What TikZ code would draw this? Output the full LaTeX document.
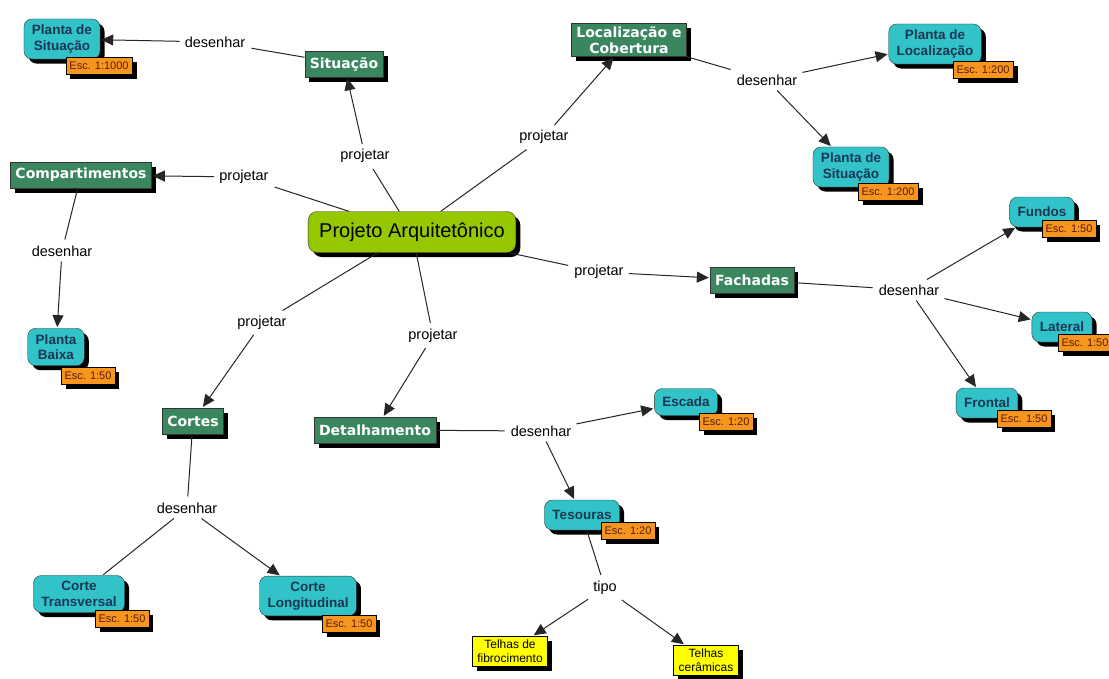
\documentclass[tikz,border=0pt]{standalone}
\usepackage{fontspec}
\setmainfont{Liberation Sans}
\newfontfamily\boxfont{DejaVu Sans}
\usepackage{tikz}
\usetikzlibrary{arrows.meta,shadows}

\definecolor{conceptGreen}{RGB}{58,135,95}
\definecolor{conceptCyan}{RGB}{50,195,200}
\definecolor{conceptLime}{RGB}{150,200,0}
\definecolor{tagOrange}{RGB}{247,150,30}
\definecolor{tagText}{RGB}{90,25,10}
\definecolor{cyanText}{RGB}{25,55,85}
\definecolor{noteYellow}{RGB}{255,255,0}

\newcommand{\newConcept}[4]{\node[#3] (#1) at (#4) {#2};}
\newcommand{\newScale}[3]{\node[esc] (#1) at (#3) {Esc. #2};}
\newcommand{\newPhrase}[3]{\node[phrase] (#1) at (#3) {#2};}
\newcommand{\newLink}[3]{\path (#1) edge [#3] (#2);}

\begin{document}
\begin{tikzpicture}[
    % one unit = one pixel of the map, y downwards
    x=1pt,y=-1pt,
    % Default arrow tip
    >={Triangle[length=12pt,width=11pt]},shorten >=1pt,
    % Edge stroke
    every edge/.style={draw,line width=1pt,black!85},
    % shadow of every box
    boxshadow/.style={drop shadow={shadow xshift=4.5pt,shadow yshift=-4.5pt,fill=black,opacity=1}},
    % concept boxes
    main/.style={draw=black!80,fill=conceptLime,rounded corners=9pt,boxshadow,
      font=\fontsize{20}{22}\selectfont,inner xsep=11pt,minimum height=41pt},
    group/.style={draw=black!80,line width=0.6pt,fill=conceptGreen,boxshadow,text=white,
      font=\boxfont\bfseries\fontsize{14}{16}\selectfont,align=center,
      inner xsep=5pt,inner ysep=3pt,minimum height=26pt},
    drawing/.style={draw=black!80,fill=conceptCyan,rounded corners=8pt,boxshadow,text=cyanText,
      font=\bfseries\fontsize{13.5}{15.5}\selectfont,align=center,
      inner xsep=8pt,inner ysep=6pt,minimum height=30pt},
    note/.style={draw=black,fill=noteYellow,boxshadow,align=center,
      font=\fontsize{12}{14}\selectfont,inner xsep=5pt,minimum height=30pt},
    esc/.style={draw=black,fill=tagOrange,boxshadow,text=tagText,
      font=\fontsize{11}{12}\selectfont,inner xsep=3.5pt,inner ysep=2pt,minimum height=17pt},
    phrase/.style={font=\fontsize{14.5}{16}\selectfont,inner sep=5pt}
    ]

    \useasboundingbox (0,0) rectangle (1109,678);

    % linking phrases
    \newPhrase{dSit}{desenhar}{215,42}
    \newPhrase{pSit}{projetar}{365,156}
    \newPhrase{pComp}{projetar}{244,177}
    \newPhrase{dComp}{desenhar}{62,251}
    \newPhrase{pLoc}{projetar}{544,137}
    \newPhrase{dLoc}{desenhar}{767,80}
    \newPhrase{pFach}{projetar}{599,272}
    \newPhrase{dFach}{desenhar}{909,290}
    \newPhrase{pCortes}{projetar}{262,323}
    \newPhrase{dCortes}{desenhar}{187,508}
    \newPhrase{pDet}{projetar}{433,336}
    \newPhrase{dDet}{desenhar}{541,431}
    \newPhrase{tipo}{tipo}{605,588}

    % concepts
    \newConcept{proj}{Projeto Arquitetônico}{main}{412,232}
    \newConcept{sit}{Situação}{group}{344,64}
    \newConcept{comp}{Compartimentos}{group}{81,175}
    \newConcept{loc}{Localização e\\Cobertura}{group}{629,40}
    \newConcept{fach}{Fachadas}{group}{752,280}
    \newConcept{cortes}{Cortes}{group}{193,421}
    \newConcept{detal}{Detalhamento}{group}{375,430}

    \newConcept{sitPlanta}{Planta de\\Situação}{drawing}{62,39}
    \newConcept{plBaixa}{Planta\\Baixa}{drawing}{56,347}
    \newConcept{plLoc}{Planta de\\Localização}{drawing}{935,44}
    \newConcept{plSit}{Planta de\\Situação}{drawing}{851,167}
    \newConcept{fundos}{Fundos}{drawing}{1042,212}
    \newConcept{lateral}{Lateral}{drawing}{1062,327}
    \newConcept{frontal}{Frontal}{drawing}{987,403}
    \newConcept{escada}{Escada}{drawing,minimum height=27pt}{686,402}
    \newConcept{tesouras}{Tesouras}{drawing}{582,515}
    \newConcept{cTrans}{Corte\\Transversal}{drawing}{79,594}
    \newConcept{cLong}{Corte\\Longitudinal}{drawing}{308,596}
    \newConcept{tFibro}{Telhas de\\fibrocimento}{note}{510,651}
    \newConcept{tCeram}{Telhas\\cerâmicas}{note}{706,660}

    % scales
    \newScale{eSitPlanta}{1:1000}{99,66}
    \newScale{ePlBaixa}{1:50}{88,376}
    \newScale{ePlLoc}{1:200}{983,70}
    \newScale{ePlSit}{1:200}{888,192}
    \newScale{eFundos}{1:50}{1069,229}
    \newScale{eLateral}{1:50}{1085,343}
    \newScale{eFrontal}{1:50}{1024,419}
    \newScale{eEscada}{1:20}{726,422}
    \newScale{eTesouras}{1:20}{628,531}
    \newScale{eCTrans}{1:50}{122,619}
    \newScale{eCLong}{1:50}{349,624}

    % links
    \newLink{proj}{pSit}{-}
    \newLink{pSit}{sit}{->}
    \newLink{sit}{dSit}{-}
    \newLink{dSit}{sitPlanta}{->}
    \newLink{proj}{pComp}{-}
    \newLink{pComp}{comp}{->}
    \newLink{comp}{dComp}{-}
    \newLink{dComp}{plBaixa}{->}
    \newLink{proj}{pLoc}{-}
    \newLink{pLoc}{loc}{->}
    \newLink{loc}{dLoc}{-}
    \newLink{dLoc}{plLoc}{->}
    \newLink{dLoc}{plSit}{->}
    \newLink{proj}{pFach}{-}
    \newLink{pFach}{fach}{->}
    \newLink{fach}{dFach}{-}
    \newLink{dFach}{fundos}{->}
    \newLink{dFach}{lateral}{->}
    \newLink{dFach}{frontal}{->}
    \newLink{proj}{pCortes}{-}
    \newLink{pCortes}{cortes}{->}
    \newLink{cortes}{dCortes}{-}
    \newLink{dCortes}{cTrans}{-}
    \newLink{dCortes}{cLong}{->}
    \newLink{proj}{pDet}{-}
    \newLink{pDet}{detal}{->}
    \newLink{detal}{dDet}{-}
    \newLink{dDet}{escada}{->}
    \newLink{dDet}{tesouras}{->}
    \newLink{tesouras}{tipo}{-}
    \newLink{tipo}{tFibro}{->}
    \newLink{tipo}{tCeram}{->}
\end{tikzpicture}
\end{document}
